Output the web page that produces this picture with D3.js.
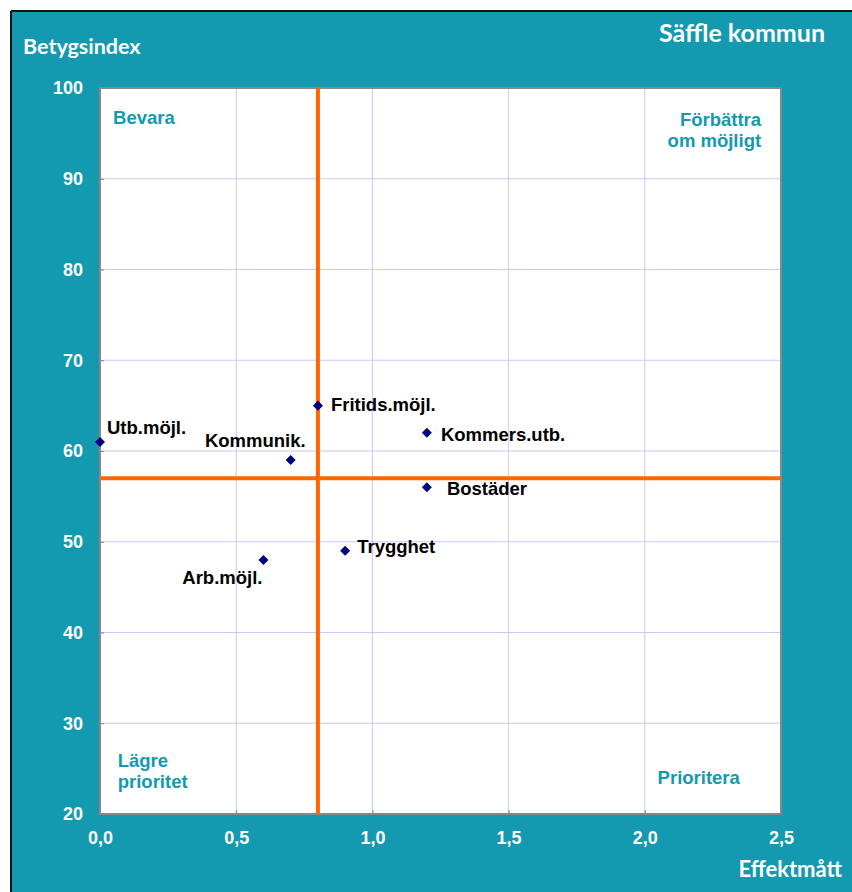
<!DOCTYPE html>
<html><head><meta charset="utf-8">
<script src="https://cdn.jsdelivr.net/npm/d3@7"></script>
<style>body{margin:0;background:#fff}svg{display:block}</style>
</head><body>
<script>
const names = ["Utb.möjl.","Kommunik.","Fritids.möjl.","Kommers.utb.","Bostäder","Trygghet","Arb.möjl."];
const effekt = [0.0, 0.7, 0.8, 1.2, 1.2, 0.9, 0.6];
const betyg = [61, 59, 65, 62, 56, 49, 48];
// label placement: dx, dy, anchor
const labelPos = [[7,-8,"start"],[15,-13,"end"],[13,5,"start"],[14,8,"start"],[20,8,"start"],[12,2,"start"],[-1,24,"end"]];
const xTicks = [0,0.5,1.0,1.5,2.0,2.5];
const yTicks = [20,30,40,50,60,70,80,90,100];
const refX = 0.8, refY = 57;
const quadrants = [
  {lines:["Bevara"], x:0.048, y:96.05, anchor:"start"},
  {lines:["Förbättra","om möjligt"], x:2.427, y:95.8, anchor:"end"},
  {lines:["Lägre","prioritet"], x:0.065, y:25.2, anchor:"start"},
  {lines:["Prioritera"], x:2.047, y:23.3, anchor:"start"}
];
const teal = "#1399B0";
const W = 852, H = 892;
const svg = d3.select("body").append("svg").attr("width", W).attr("height", H);
svg.append("rect").attr("x",11).attr("y",11).attr("width",W-11).attr("height",H-11).attr("fill",teal);
svg.append("line").attr("x1",11).attr("x2",W).attr("y1",11).attr("y2",11).attr("stroke","#111").attr("stroke-width",2);
svg.append("line").attr("x1",11).attr("x2",11).attr("y1",11).attr("y2",H).attr("stroke","#111").attr("stroke-width",2);

const L=100, R=781, T=88, B=814;
const x = d3.scaleLinear().domain([0,2.5]).range([L,R]);
const y = d3.scaleLinear().domain([20,100]).range([B,T]);
svg.append("rect").attr("x",L).attr("y",T).attr("width",R-L).attr("height",B-T).attr("fill","#fff");
// grid
svg.append("g").selectAll("line").data(xTicks.slice(1,-1)).join("line")
  .attr("x1",d=>x(d)).attr("x2",d=>x(d)).attr("y1",T).attr("y2",B).attr("stroke","#c8c8ff").attr("stroke-width",1);
svg.append("g").selectAll("line").data(yTicks.slice(1,-1)).join("line")
  .attr("x1",L).attr("x2",R).attr("y1",d=>y(d)).attr("y2",d=>y(d)).attr("stroke","#c8c8ff").attr("stroke-width",1);
// axes (ticks inside)
const fontB = "'Liberation Sans', Arial, sans-serif";
const xa = svg.append("g").attr("transform",`translate(0,${B})`).call(d3.axisBottom(x).tickValues(xTicks).tickSize(-4).tickPadding(17).tickFormat(d=>d3.format(".1f")(d).replace(".",",")));
const ya = svg.append("g").attr("transform",`translate(${L},0)`).call(d3.axisLeft(y).tickValues(yTicks).tickSize(-4).tickPadding(17));
[xa,ya].forEach(a=>{
  a.select(".domain").remove();
  a.selectAll(".tick line").attr("stroke","#808080");
  a.selectAll("text").attr("fill","#fff").attr("font-family",fontB).attr("font-weight","bold").attr("font-size",18);
});
svg.append("rect").attr("x",L).attr("y",T).attr("width",R-L).attr("height",B-T).attr("fill","none").attr("stroke","#888").attr("stroke-width",2);
// reference lines
svg.append("line").attr("x1",x(refX)).attr("x2",x(refX)).attr("y1",T).attr("y2",B).attr("stroke","#FF6600").attr("stroke-width",4);
svg.append("line").attr("x1",L).attr("x2",R).attr("y1",y(refY)).attr("y2",y(refY)).attr("stroke","#FF6600").attr("stroke-width",4);
// quadrant labels
quadrants.forEach(q=>{
  const t = svg.append("text").attr("x",x(q.x)).attr("y",y(q.y)).attr("text-anchor",q.anchor)
    .attr("fill",teal).attr("font-family",fontB).attr("font-weight","bold").attr("font-size",18.5);
  q.lines.forEach((l,i)=>t.append("tspan").attr("x",x(q.x)).attr("dy",i?21:0).text(l));
});
// points
const data = names.map((n,i)=>({n, e:effekt[i], b:betyg[i], p:labelPos[i]}));
svg.append("g").selectAll("path").data(data).join("path")
  .attr("transform",d=>`translate(${x(d.e)},${y(d.b)})`)
  .attr("d",d3.symbol(d3.symbolDiamond2,64)).attr("fill","#000080");
svg.append("g").selectAll("text").data(data).join("text")
  .attr("x",d=>x(d.e)+d.p[0]).attr("y",d=>y(d.b)+d.p[1]).attr("text-anchor",d=>d.p[2])
  .attr("font-family",fontB).attr("font-weight","bold").attr("font-size",18.5).attr("fill","#000").text(d=>d.n);
// titles
const fontC = "Lato, 'Open Sans', sans-serif";
svg.append("text").attr("x",23).attr("y",54).attr("fill","#fff").attr("font-family",fontC).attr("font-weight","bold").attr("font-size",21.5).text("Betygsindex");
svg.append("text").attr("x",825).attr("y",42).attr("text-anchor","end").attr("fill","#fff").attr("font-family",fontC).attr("font-weight","bold").attr("font-size",25).text("Säffle kommun");
svg.append("text").attr("x",842).attr("y",877).attr("text-anchor","end").attr("fill","#fff").attr("font-family",fontC).attr("font-weight","bold").attr("font-size",22).text("Effektmått");
</script>
</body></html>
